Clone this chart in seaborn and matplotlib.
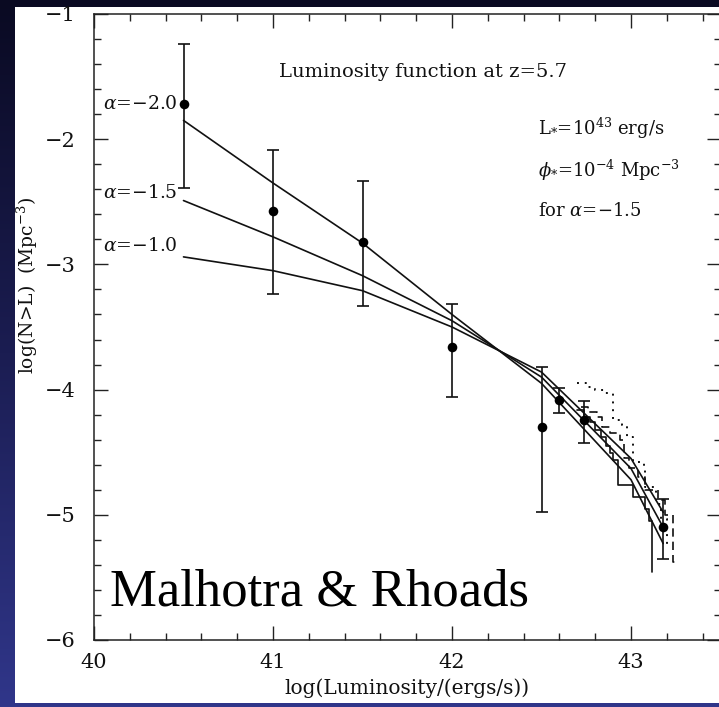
import numpy as np
import pandas as pd
import matplotlib
matplotlib.use("Agg")
import matplotlib.pyplot as plt
from matplotlib.patches import Rectangle
from matplotlib.colors import LinearSegmentedColormap
import seaborn as sns

# ---------------- data ----------------
obs_x = [40.5, 41.0, 41.5, 42.0, 42.5, 42.6, 42.74, 43.18]
obs_y = [-1.72, -2.57, -2.82, -3.66, -4.30, -4.08, -4.24, -5.10]
obs_lo = [-2.39, -3.24, -3.33, -4.06, -4.98, -4.19, -4.43, -5.35]
obs_hi = [-1.24, -2.09, -2.33, -3.32, -3.82, -3.99, -4.09, -4.87]

model_x = [40.5, 41.0, 41.5, 42.0, 42.5, 43.0, 43.18]
model_a10 = [-2.94, -3.05, -3.21, -3.50, -3.86, -4.55, -4.98]
model_a15 = [-2.49, -2.78, -3.09, -3.45, -3.90, -4.63, -5.10]
model_a20 = [-1.85, -2.35, -2.83, -3.40, -3.95, -4.72, -5.23]

solid_x = [42.70, 42.74, 42.77, 42.80, 42.83, 42.86, 42.88, 42.90, 42.93, 43.01, 43.08, 43.10, 43.12]
solid_y = [-4.16, -4.22, -4.26, -4.32, -4.38, -4.45, -4.51, -4.56, -4.76, -4.86, -4.95, -5.05, -5.46]
dash_x = [42.72, 42.76, 42.81, 42.84, 42.88, 42.94, 42.96, 42.99, 43.04, 43.08, 43.15, 43.19, 43.235, 43.27]
dash_y = [-4.14, -4.18, -4.22, -4.30, -4.35, -4.40, -4.55, -4.63, -4.70, -4.80, -4.88, -5.00, -5.38, -5.38]
dot_x = [42.70, 42.75, 42.80, 42.85, 42.90, 42.95, 42.98, 43.01, 43.07, 43.08, 43.14, 43.17, 43.20]
dot_y = [-3.95, -3.98, -4.00, -4.03, -4.24, -4.28, -4.38, -4.58, -4.64, -4.78, -4.91, -5.03, -5.26]

alpha_labels = ["$\\alpha$=\u22122.0", "$\\alpha$=\u22121.5", "$\\alpha$=\u22121.0"]
alpha_label_y = [-1.72, -2.43, -2.85]
x_ticks = [40, 41, 42, 43]
y_ticks = [-6, -5, -4, -3, -2, -1]

# ---------------- style ----------------
sns.set_theme(style="ticks")
plt.rcParams["font.family"] = ["DejaVu Serif", "DejaVu Sans"]
plt.rcParams["mathtext.fontset"] = "dejavuserif"

W, H = 719, 707
fig = plt.figure(figsize=(W / 100, H / 100), dpi=100)

# gradient background
bg = fig.add_axes([0, 0, 1, 1], zorder=-10)
grad = np.linspace(0, 1, 256).reshape(-1, 1)
cmap = LinearSegmentedColormap.from_list("bg", ["#0a0a22", "#1b1d52", "#30368a"])
bg.imshow(grad, aspect="auto", cmap=cmap, extent=[0, 1, 0, 1], origin="upper")
bg.axis("off")
# white panel
fig.patches.append(Rectangle((15 / W, 1 - 703 / H), (W - 15) / W, (703 - 7) / H,
                             transform=fig.transFigure, facecolor="white",
                             edgecolor="none", zorder=-5))

left = 94 / W
bottom = (H - 640) / H
ax = fig.add_axes([left, bottom, 626.5 / W, 626 / H])
ax.set_facecolor("white")
ax.patch.set_alpha(0)

lc = "#111111"
# model curves
mdf = pd.DataFrame({
    "x": model_x * 3,
    "y": model_a20 + model_a15 + model_a10,
    "model": ["a20"] * 7 + ["a15"] * 7 + ["a10"] * 7,
})
sns.lineplot(data=mdf, x="x", y="y", units="model", estimator=None, color=lc,
             lw=1.2, ax=ax, legend=False, sort=False)

# staircases
sns.lineplot(x=solid_x, y=solid_y, estimator=None, color=lc, lw=1.2,
             drawstyle="steps-post", ax=ax, sort=False)
sns.lineplot(x=dash_x, y=dash_y, estimator=None, color=lc, lw=1.2,
             drawstyle="steps-post", ax=ax, sort=False,
             linestyle=(0, (5, 3)))
sns.lineplot(x=dot_x, y=dot_y, estimator=None, color=lc, lw=1.4,
             drawstyle="steps-post", ax=ax, sort=False,
             linestyle=(0, (1, 3)))

# error bars
oy = np.array(obs_y)
yerr = np.vstack([oy - np.array(obs_lo), np.array(obs_hi) - oy])
ax.errorbar(obs_x, obs_y, yerr=yerr, fmt="none", ecolor=lc, elinewidth=1.2,
            capsize=4.5, capthick=1.2)
sns.scatterplot(x=obs_x, y=obs_y, color="black", s=48, edgecolor="black",
                linewidth=0, ax=ax, zorder=5)

# axes
ax.set_xlim(40, 43.5)
ax.set_ylim(-6, -1)
ax.set_xticks(x_ticks)
ax.set_yticks(y_ticks)
ax.set_xticklabels([str(v) for v in x_ticks])
ax.set_yticklabels(["\u2212%d" % abs(v) for v in y_ticks])
ax.xaxis.set_minor_locator(matplotlib.ticker.MultipleLocator(0.2))
ax.yaxis.set_minor_locator(matplotlib.ticker.MultipleLocator(0.2))
ax.tick_params(which="both", direction="in", top=True, right=True, colors="#222222",
               labelcolor="#111111", labelsize=15)
ax.tick_params(which="major", length=10, width=1.0)
ax.tick_params(which="minor", length=5, width=1.0)
ax.tick_params(axis="y", which="major", pad=13)
ax.tick_params(axis="x", which="major", pad=9)
for s in ax.spines.values():
    s.set_color("#222222")
    s.set_linewidth(1.1)

ax.set_xlabel("log(Luminosity/(ergs/s))", fontsize=14.5, color="#111111", labelpad=5)
ax.set_ylabel("log(N>L)  (Mpc$^{-3}$)", fontsize=13.5, color="#111111")
ax.yaxis.set_label_coords(-0.086, 0.567)

# annotations
ax.text(41.84, -1.46, "Luminosity function at z=5.7", fontsize=14, ha="center",
        va="center", color="#111111")
ax.text(42.48, -1.91, "L$_{*}$=10$^{43}$ erg/s", fontsize=13, ha="left", va="center",
        color="#111111")
ax.text(42.48, -2.25, "$\\phi_{*}$=10$^{-4}$ Mpc$^{-3}$", fontsize=13, ha="left",
        va="center", color="#111111")
ax.text(42.48, -2.57, "for $\\alpha$=\u22121.5", fontsize=13, ha="left", va="center",
        color="#111111")
for lab, yy in zip(alpha_labels, alpha_label_y):
    ax.text(40.05, yy, lab, fontsize=13.5, ha="left", va="center", color="#111111")

ax.text(40.09, -5.62, "Malhotra & Rhoads", fontsize=38, ha="left", va="center",
        family="Liberation Serif", color="black")

fig.savefig("out.png", dpi=100)
